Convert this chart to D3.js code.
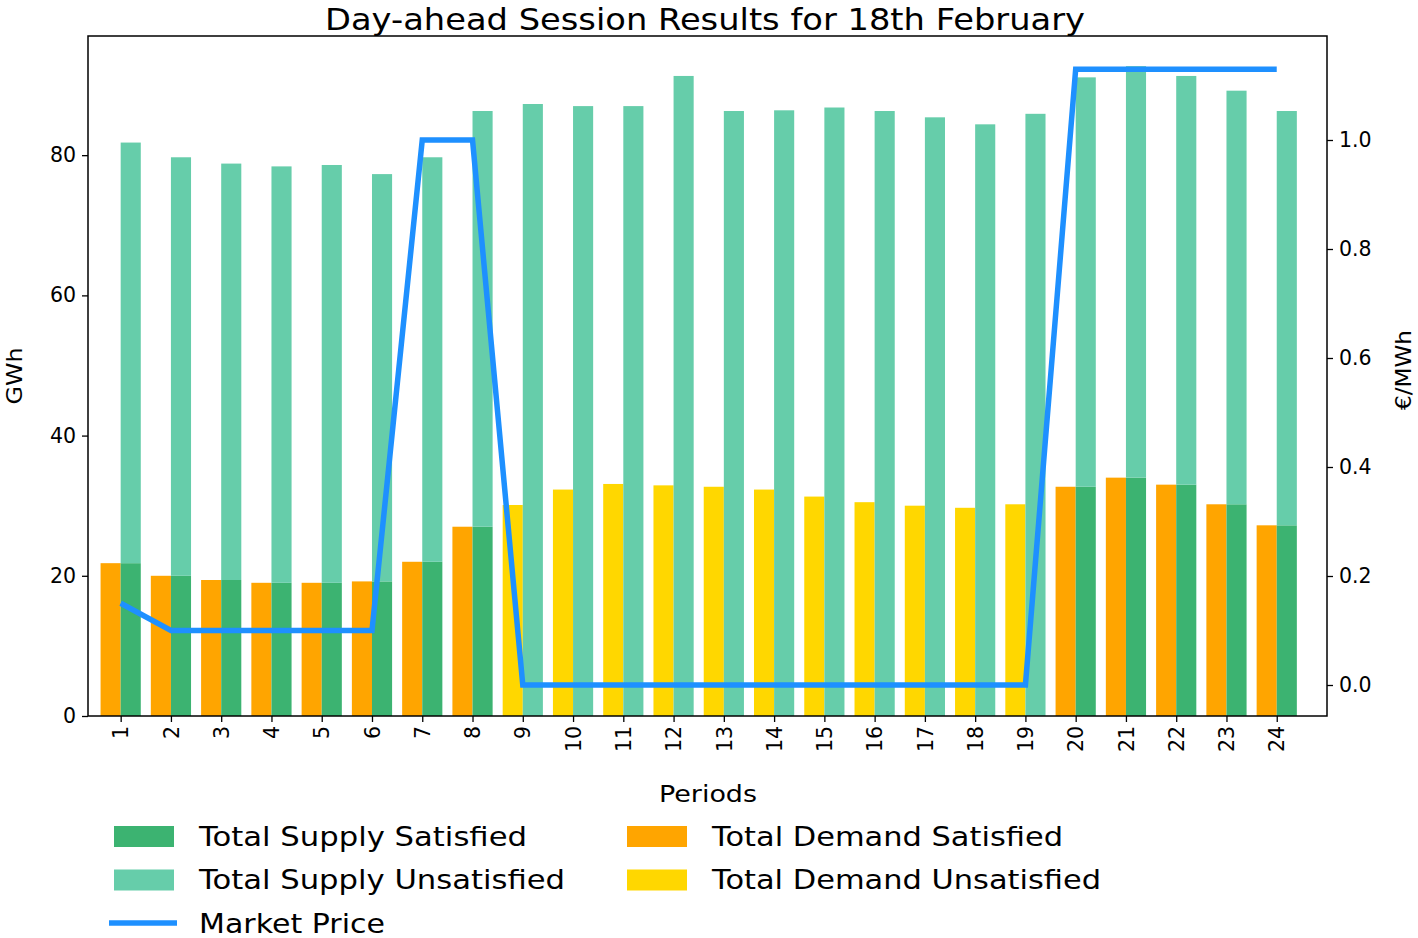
<!DOCTYPE html>
<html><head><meta charset="utf-8">
<script src="https://cdn.jsdelivr.net/npm/d3@7"></script>
<style>body{margin:0;background:#fff}svg{display:block}text{font-family:"DejaVu Sans",sans-serif}</style>
</head><body><svg id="c" width="1418" height="938"></svg>
<script>
const periods = d3.range(1, 25);
const demandSatisfied   = [21.8,20.0,19.4,19.0,19.0,19.2,22.0,27.0,0,0,0,0,0,0,0,0,0,0,0,32.7,34.0,33.0,30.2,27.2];
const demandUnsatisfied = [0,0,0,0,0,0,0,0,30.1,32.3,33.1,32.9,32.7,32.3,31.3,30.5,30.0,29.7,30.2,0,0,0,0,0];
const supplySatisfied   = [21.8,20.0,19.4,19.0,19.0,19.2,22.0,27.0,0,0,0,0,0,0,0,0,0,0,0,32.7,34.0,33.0,30.2,27.2];
const supplyTotal       = [81.8,79.7,78.8,78.4,78.6,77.3,79.7,86.3,87.3,87.0,87.0,91.3,86.3,86.4,86.8,86.3,85.4,84.4,85.9,91.1,92.7,91.3,89.2,86.3];
const marketPrice       = [0.15,0.10,0.10,0.10,0.10,0.10,1.0,1.0,0,0,0,0,0,0,0,0,0,0,0,1.13,1.13,1.13,1.13,1.13];
const leftTicks  = [0,20,40,60,80];
const rightTicks = [0,0.2,0.4,0.6,0.8,1.0];

const C = {supSat:"#3cb371", supUns:"#66cdaa", demSat:"#ffa500", demUns:"#ffd700", price:"#1e90ff"};
const L = 88, R = 1327, T = 36, B = 716;
const svg = d3.select("#c");
const x = d3.scaleLinear().domain([0.35, 25.0]).range([L, R]);
const y = d3.scaleLinear().domain([0, 97]).range([B, T]);
const y2 = d3.scaleLinear().domain([0, 1]).range([685, 140]);
const bw = 0.4;

const g = svg.append("g");
g.selectAll(".ds").data(periods).join("rect")
 .attr("x", d => x(d - bw)).attr("width", x(bw) - x(0))
 .attr("y", (d,i) => y(demandSatisfied[i])).attr("height", (d,i) => y(0) - y(demandSatisfied[i]))
 .attr("fill", C.demSat);
g.selectAll(".du").data(periods).join("rect")
 .attr("x", d => x(d - bw)).attr("width", x(bw) - x(0))
 .attr("y", (d,i) => y(demandUnsatisfied[i])).attr("height", (d,i) => y(0) - y(demandUnsatisfied[i]))
 .attr("fill", C.demUns);
g.selectAll(".ss").data(periods).join("rect")
 .attr("x", d => x(d)).attr("width", x(bw) - x(0))
 .attr("y", (d,i) => y(supplySatisfied[i])).attr("height", (d,i) => y(0) - y(supplySatisfied[i]))
 .attr("fill", C.supSat);
g.selectAll(".su").data(periods).join("rect")
 .attr("x", d => x(d)).attr("width", x(bw) - x(0))
 .attr("y", (d,i) => y(supplyTotal[i])).attr("height", (d,i) => y(supplySatisfied[i]) - y(supplyTotal[i]))
 .attr("fill", C.supUns);

svg.append("path").datum(periods)
 .attr("d", d3.line().x(d => x(d)).y((d,i) => y2(marketPrice[i])))
 .attr("fill","none").attr("stroke", C.price).attr("stroke-width", 5.5).attr("stroke-linejoin","miter");

const fs = "20.5px";
const ax = svg.append("g").attr("transform", `translate(0,${B})`)
 .call(d3.axisBottom(x).tickValues(periods).tickFormat(d3.format("d")).tickSize(6).tickPadding(4));
ax.selectAll("text").attr("transform","rotate(-90)").attr("text-anchor","end")
  .attr("x", -10).attr("y", 0).attr("dy","0.35em").style("font-size", fs).attr("fill","#000");
const ay = svg.append("g").attr("transform", `translate(${L},0)`)
 .call(d3.axisLeft(y).tickValues(leftTicks).tickSize(6).tickPadding(6));
ay.selectAll("text").style("font-size", fs).attr("fill","#000");
const ay2 = svg.append("g").attr("transform", `translate(${R},0)`)
 .call(d3.axisRight(y2).tickValues(rightTicks).tickFormat(d3.format(".1f")).tickSize(6).tickPadding(6));
ay2.selectAll("text").style("font-size", fs).attr("fill","#000");
svg.selectAll(".domain").remove();
svg.selectAll(".tick line").attr("stroke","#000").attr("stroke-width",1.3);
svg.append("rect").attr("x",L).attr("y",T).attr("width",R-L).attr("height",B-T)
 .attr("fill","none").attr("stroke","#000").attr("stroke-width",1.5);

function fitText(sel, len){ return sel.attr("textLength", len).attr("lengthAdjust","spacingAndGlyphs"); }

fitText(svg.append("text").attr("x",705).attr("y",30).attr("text-anchor","middle").style("font-size","31px")
 .text("Day-ahead Session Results for 18th February"), 760);
fitText(svg.append("text").attr("transform","translate(22,376) rotate(-90)").attr("text-anchor","middle").style("font-size","22px").text("GWh"), 57);
fitText(svg.append("text").attr("transform","translate(1411,370) rotate(-90)").attr("text-anchor","middle").style("font-size","21px").text("€/MWh"), 80);
fitText(svg.append("text").attr("x",708).attr("y",802).attr("text-anchor","middle").style("font-size","23px").text("Periods"), 98);

const legend = [
 {label:"Total Supply Satisfied", color:C.supSat, col:0, row:0, len:328},
 {label:"Total Supply Unsatisfied", color:C.supUns, col:0, row:1, len:366},
 {label:"Market Price", color:C.price, col:0, row:2, line:true, len:186},
 {label:"Total Demand Satisfied", color:C.demSat, col:1, row:0, len:351},
 {label:"Total Demand Unsatisfied", color:C.demUns, col:1, row:1, len:389}
];
const lg = svg.append("g");
legend.forEach(d => {
  const lx = d.col ? 627 : 114, ly = 836 + d.row*43.5;
  if (d.line) lg.append("line").attr("x1",lx-5).attr("x2",lx+63).attr("y1",ly).attr("y2",ly).attr("stroke",d.color).attr("stroke-width",5.5);
  else lg.append("rect").attr("x",lx).attr("y",ly-10).attr("width",60).attr("height",21).attr("fill",d.color);
  fitText(lg.append("text").attr("x",lx+85).attr("y",ly + 9.5).style("font-size","26.5px").text(d.label), d.len);
});
</script></body></html>
